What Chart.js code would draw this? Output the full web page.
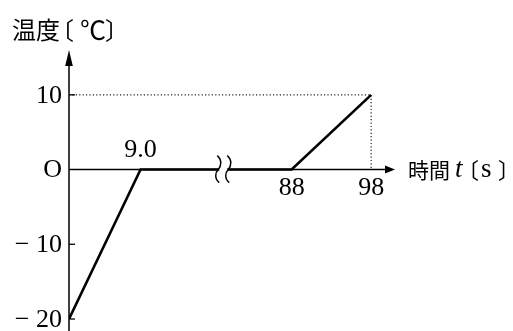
<!DOCTYPE html>
<html>
<head>
<meta charset="utf-8">
<script src="https://cdn.jsdelivr.net/npm/chart.js@4/dist/chart.umd.min.js"></script>
<style>
  html, body { margin: 0; padding: 0; background: #fff; }
  #wrap { width: 513px; height: 331px; }
</style>
</head>
<body>
<div id="wrap"><canvas id="temp-chart" width="513" height="331"></canvas></div>
<script>
// temperature vs time, axis broken between 9 s and 88 s
let timeSec = [0, 9.0, 88, 98];
let tempC = [-20, 0, 0, 10];
let yTicks = [10, 0, -10, -20];
let yTickLabels = ['10', 'O', '\u2212 10', '\u2212 20'];
let xTicks = [9.0, 88, 98];
let xTickLabels = ['9.0', '88', '98'];
let breakFrom = 9.0;
let breakTo = 88;

const serif = '"Liberation Serif", "Times New Roman", serif';
const cjk = '"Noto Sans CJK JP", "Noto Sans CJK SC", sans-serif';

// squeeze the flat stretch so the break takes little room
function squeeze(t) {
    if (t <= breakFrom) return t;
    if (t >= breakTo) return t - breakTo + 28;
    return breakFrom + (t - breakFrom) * (28 - breakFrom) / (breakTo - breakFrom);
}

class BrokenScale extends Chart.LinearScale {
    getPixelForValue(value) {
        let s0 = squeeze(this.min), s1 = squeeze(this.max);
        return this.getPixelForDecimal((squeeze(value) - s0) / (s1 - s0));
    }
}
BrokenScale.id = 'broken';
BrokenScale.defaults = Chart.LinearScale.defaults;
Chart.register(BrokenScale);

let tempPoints = timeSec.map((t, i) => ({ x: t, y: tempC[i] }));
let last = tempPoints[tempPoints.length - 1];
let guidePoints = [{ x: 0, y: last.y }, { x: last.x, y: last.y }, { x: last.x, y: 0 }];

let axesPlugin = {
    id: 'axes',
    beforeDatasetsDraw(chart) {
        let ctx = chart.ctx;
        let xs = chart.scales.x, ys = chart.scales.y;
        let x0 = xs.getPixelForValue(0), y0 = ys.getPixelForValue(0);
        ctx.save();
        ctx.strokeStyle = '#000';
        ctx.lineWidth = 1.5;
        ctx.beginPath();
        ctx.moveTo(x0, chart.chartArea.top + 12);
        ctx.lineTo(x0, chart.height);
        ctx.moveTo(x0, y0);
        ctx.lineTo(chart.chartArea.right - 8, y0);
        ctx.stroke();
        ctx.restore();
    },
    afterDatasetsDraw(chart) {
        let ctx = chart.ctx;
        let xs = chart.scales.x, ys = chart.scales.y;
        let x0 = xs.getPixelForValue(0), y0 = ys.getPixelForValue(0);
        let top = chart.chartArea.top, right = chart.chartArea.right;
        ctx.save();
        ctx.fillStyle = '#000';
        ctx.strokeStyle = '#000';

        // arrow heads
        ctx.beginPath();
        ctx.moveTo(x0, top);
        ctx.lineTo(x0 - 3.8, top + 16);
        ctx.lineTo(x0 + 3.8, top + 16);
        ctx.closePath();
        ctx.fill();
        ctx.beginPath();
        ctx.moveTo(right, y0);
        ctx.lineTo(right - 10, y0 - 4);
        ctx.lineTo(right - 10, y0 + 4);
        ctx.closePath();
        ctx.fill();

        // break marks
        let bx = xs.getPixelForDecimal(19.4 / squeeze(xs.max));
        ctx.fillStyle = '#fff';
        ctx.fillRect(bx - 4, y0 - 3, 8, 6);
        ctx.lineWidth = 1.5;
        [bx - 5, bx + 5].forEach(function(cx) {
            ctx.beginPath();
            ctx.moveTo(cx - 1, y0 - 14);
            ctx.bezierCurveTo(cx + 4, y0 - 10, cx + 3, y0 - 3, cx, y0);
            ctx.bezierCurveTo(cx - 3, y0 + 3, cx - 4, y0 + 9, cx + 1, y0 + 13);
            ctx.stroke();
        });

        // y ticks
        ctx.lineWidth = 1.3;
        ctx.fillStyle = '#000';
        ctx.font = '26px ' + serif;
        ctx.textAlign = 'right';
        ctx.textBaseline = 'middle';
        yTicks.forEach(function(v, i) {
            let py = ys.getPixelForValue(v);
            if (v !== 0) {
                ctx.beginPath();
                ctx.moveTo(x0, py);
                ctx.lineTo(x0 + 6, py);
                ctx.stroke();
            }
            ctx.fillText(yTickLabels[i], x0 - 7, py + 1);
        });

        // x ticks: first one sits above the axis
        ctx.textAlign = 'center';
        xTicks.forEach(function(v, i) {
            let px = xs.getPixelForValue(v);
            let py = i === 0 ? y0 - 19 : y0 + 19;
            ctx.fillText(xTickLabels[i], px, py);
        });

        // axis titles
        ctx.textAlign = 'left';
        ctx.font = '24px ' + cjk;
        ctx.fillText('温度', 12, 30);
        ctx.fillText('〔', 50, 30);
        ctx.fillText('〕', 105, 30);
        ctx.textAlign = 'center';
        ctx.font = '26px ' + cjk;
        ctx.fillText('℃', 93, 30);

        ctx.textAlign = 'left';
        ctx.font = '21px ' + cjk;
        ctx.fillText('時間', 408, y0);
        ctx.font = 'italic 27px ' + serif;
        ctx.fillText('t', 455, y0);
        ctx.font = '22px ' + cjk;
        ctx.fillText('〔', 457, y0);
        ctx.fillText('〕', 498, y0);
        ctx.font = '27px ' + serif;
        ctx.fillText('s', 481, y0);
        ctx.restore();
    }
};

new Chart(document.getElementById('temp-chart').getContext('2d'), {
    type: 'line',
    data: {
        datasets: [{
            label: '温度',
            data: tempPoints,
            borderColor: '#000',
            borderWidth: 2.6,
            pointRadius: 0,
            tension: 0,
            order: 1
        }, {
            label: 'guide',
            data: guidePoints,
            borderColor: '#222',
            borderWidth: 1.2,
            borderDash: [1.2, 2.2],
            pointRadius: 0,
            tension: 0,
            order: 2
        }]
    },
    options: {
        responsive: false,
        animation: false,
        layout: { padding: { left: 69, top: 50, right: 118, bottom: 12 } },
        scales: {
            x: { type: 'broken', min: 0, max: 101, display: false },
            y: { type: 'linear', min: -20, max: 16, display: false }
        },
        plugins: {
            legend: { display: false },
            tooltip: { enabled: false }
        }
    },
    plugins: [axesPlugin]
});
</script>
</body>
</html>
